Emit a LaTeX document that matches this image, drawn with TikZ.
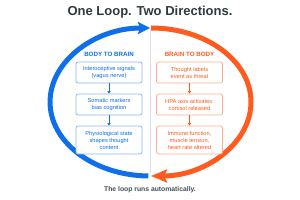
\documentclass[tikz,border=0pt]{standalone}
\usepackage{fontspec}
\setmainfont{Liberation Sans}
\usetikzlibrary{arrows.meta}
\definecolor{bl}{HTML}{0F6FEB}
\definecolor{bllight}{HTML}{86B4F2}
\definecolor{og}{HTML}{FF5B1F}
\definecolor{oglight}{HTML}{FFAA88}
\definecolor{ttl}{HTML}{2F3A42}
\tikzset{
  loopline/.style={line width=5pt},
  boxstyle/.style={draw, rounded corners=2pt, line width=0.7pt, fill=white,
    minimum width=66pt, align=center, inner sep=1pt,
    font=\fontsize{5.7}{7}\selectfont},
  bluebox/.style={boxstyle, draw=bllight, text=bl},
  orangebox/.style={boxstyle, draw=oglight, text=og},
  heading/.style={font=\bfseries\fontsize{6.2}{7}\selectfont},
  smallarrow/.style={line width=0.6pt, -{Triangle[length=2.5pt,width=3pt]}}
}
\begin{document}
\begin{tikzpicture}[x=1pt,y=1pt]
\useasboundingbox (0,0) rectangle (300,200);
\fill[white] (0,0) rectangle (300,200);
\node[font=\bfseries\fontsize{13}{15}\selectfont, text=ttl] (title) at (150,188) {One Loop. Two Directions.};
\coordinate (divtop) at (150,170);
\coordinate (divbot) at (150,27);
\draw[black!12, line width=0.4pt] (divtop) -- (divbot);
% loops
\draw[bl, loopline, -{Stealth[length=12pt,width=12pt,inset=2pt]}] (148.3,24) arc[start angle=269,end angle=90,x radius=100,y radius=74];
\draw[og, loopline, -{Stealth[length=16pt,width=13pt,inset=3pt]}] (151,172) arc[start angle=90,end angle=-90,x radius=100,y radius=74];
% headings
\node[heading, text=bl] (hb) at (109,146) {BODY TO BRAIN};
\node[heading, text=og] (ho) at (189.5,146) {BRAIN TO BODY};
% blue boxes
\node[bluebox, minimum height=21pt] (b1) at (109,127.5) {Interoceptive signals\\(vagus nerve)};
\node[bluebox, minimum height=21pt] (b2) at (109,95.5) {Somatic markers\\bias cognition};
\node[bluebox, minimum height=28pt] (b3) at (109,60) {Physiological state\\shapes thought\\content};
% orange boxes
\node[orangebox, minimum height=21pt] (o1) at (189.5,127.5) {Thought labels\\event as threat};
\node[orangebox, minimum height=21pt] (o2) at (189.5,95.5) {HPA axis activates:\\cortisol released};
\node[orangebox, minimum height=28pt] (o3) at (189.5,60) {Immune function,\\muscle tension,\\heart rate altered};
\draw[bl, smallarrow] (b1) -- (b2);
\draw[bl, smallarrow] (b2) -- (b3);
\draw[og, smallarrow] (o1) -- (o2);
\draw[og, smallarrow] (o2) -- (o3);
\node[font=\bfseries\fontsize{6.8}{8}\selectfont, text=ttl!90] (foot) at (150,10) {The loop runs automatically.};
\end{tikzpicture}
\end{document}
